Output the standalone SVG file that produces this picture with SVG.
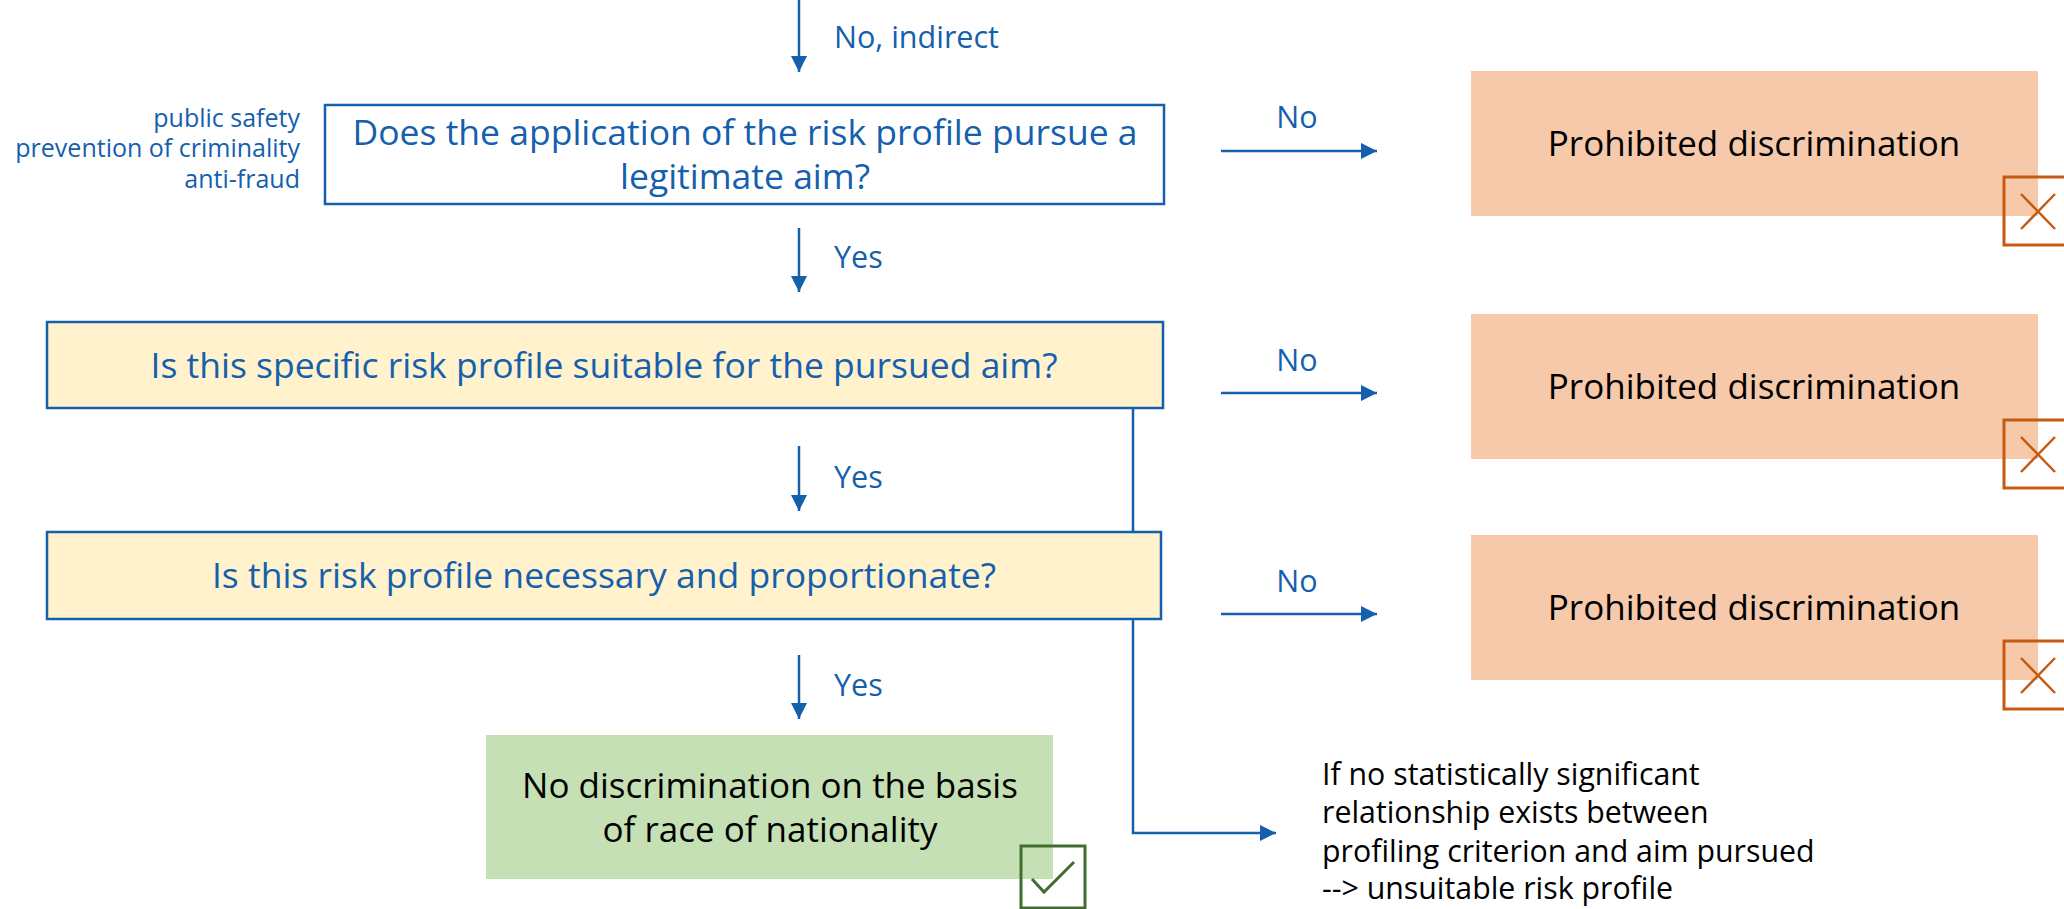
<svg xmlns="http://www.w3.org/2000/svg" width="2064" height="909" viewBox="0 0 2064 909">
<style>
.q{fill:#1560AC;font-family:"Open Sans","Liberation Sans",sans-serif;font-size:35.5px;text-anchor:middle}
.lbl{fill:#1560AC;font-family:"Open Sans","Liberation Sans",sans-serif;font-size:30.5px}
.side{fill:#1560AC;font-family:"Open Sans","Liberation Sans",sans-serif;font-size:25px;text-anchor:end}
.blk{fill:#000;font-family:"Open Sans","Liberation Sans",sans-serif;font-size:35px;text-anchor:middle}
.note{fill:#000;font-family:"Open Sans","Liberation Sans",sans-serif;font-size:30.3px}
.conn{stroke:#1560AC;stroke-width:2.5;fill:none}
.qbox{stroke:#1560AC;stroke-width:2.5}
.bad{fill:#F6C9AA}
.xbox{fill:none;stroke:#C55A11;stroke-width:3}
.xm{fill:none;stroke:#C55A11;stroke-width:2.5}
</style>
<defs>
<marker id="ah" markerUnits="userSpaceOnUse" markerWidth="17" markerHeight="16" refX="16" refY="8" orient="auto">
<path d="M0,0 L16,8 L0,16 z" fill="#1560AC"/>
</marker>
</defs>
<g id="connectors">
<line class="conn" x1="799" y1="0" x2="799" y2="72" marker-end="url(#ah)"/>
<text class="lbl" x="834" y="48">No, indirect</text>
<line class="conn" x1="799" y1="228" x2="799" y2="292" marker-end="url(#ah)"/>
<text class="lbl" x="834" y="268">Yes</text>
<line class="conn" x1="799" y1="446" x2="799" y2="511" marker-end="url(#ah)"/>
<text class="lbl" x="834" y="488">Yes</text>
<line class="conn" x1="799" y1="655" x2="799" y2="719" marker-end="url(#ah)"/>
<text class="lbl" x="834" y="696">Yes</text>
<line class="conn" x1="1221" y1="151" x2="1377" y2="151" marker-end="url(#ah)"/>
<text class="lbl" x="1297" y="128" text-anchor="middle">No</text>
<line class="conn" x1="1221" y1="393" x2="1377" y2="393" marker-end="url(#ah)"/>
<text class="lbl" x="1297" y="371" text-anchor="middle">No</text>
<line class="conn" x1="1221" y1="614" x2="1377" y2="614" marker-end="url(#ah)"/>
<text class="lbl" x="1297" y="592" text-anchor="middle">No</text>
<polyline class="conn" points="1133,408 1133,833 1276,833" marker-end="url(#ah)"/>
</g>
<g id="aims">
<text class="side" x="300" y="127">public safety</text>
<text class="side" x="300" y="157">prevention of criminality</text>
<text class="side" x="300" y="188">anti-fraud</text>
</g>
<g id="q1">
<rect class="qbox" x="325" y="105" width="839" height="99" fill="#FFFFFF"/>
<text class="q" x="745" y="145">Does the application of the risk profile pursue a</text>
<text class="q" x="745" y="189">legitimate aim?</text>
</g>
<g id="q2">
<rect class="qbox" x="47" y="322" width="1116" height="86" fill="#FFF2CC"/>
<text class="q" x="604" y="378">Is this specific risk profile suitable for the pursued aim?</text>
</g>
<g id="q3">
<rect class="qbox" x="47" y="532" width="1114" height="87" fill="#FFF2CC"/>
<text class="q" x="604" y="588">Is this risk profile necessary and proportionate?</text>
</g>
<g id="p1">
<rect class="bad" x="1471" y="71" width="567" height="145"/>
<text class="blk" x="1754" y="156">Prohibited discrimination</text>
<rect class="xbox" x="2004" y="177" width="68" height="68"/>
<path class="xm" d="M2021,194 L2055,229 M2055,194 L2021,229"/>
</g>
<g id="p2">
<rect class="bad" x="1471" y="314" width="567" height="145"/>
<text class="blk" x="1754" y="399">Prohibited discrimination</text>
<rect class="xbox" x="2004" y="420" width="68" height="68"/>
<path class="xm" d="M2021,437 L2055,472 M2055,437 L2021,472"/>
</g>
<g id="p3">
<rect class="bad" x="1471" y="535" width="567" height="145"/>
<text class="blk" x="1754" y="620">Prohibited discrimination</text>
<rect class="xbox" x="2004" y="641" width="68" height="68"/>
<path class="xm" d="M2021,658 L2055,693 M2055,658 L2021,693"/>
</g>
<g id="ok">
<rect x="486" y="735" width="567" height="144" fill="#C5E0B4"/>
<text class="blk" x="770" y="798" font-size="35.5">No discrimination on the basis</text>
<text class="blk" x="770" y="842" font-size="35.5">of race of nationality</text>
<rect x="1021" y="846" width="64" height="62" fill="none" stroke="#436D2E" stroke-width="3"/>
<path d="M1032,879 L1044,892 L1074,862" stroke="#436D2E" stroke-width="3" fill="none"/>
</g>
<g id="note">
<text class="note" x="1322" y="785">If no statistically significant</text>
<text class="note" x="1322" y="823">relationship exists between</text>
<text class="note" x="1322" y="862">profiling criterion and aim pursued</text>
<text class="note" x="1322" y="899">--&gt; unsuitable risk profile</text>
</g>
</svg>
